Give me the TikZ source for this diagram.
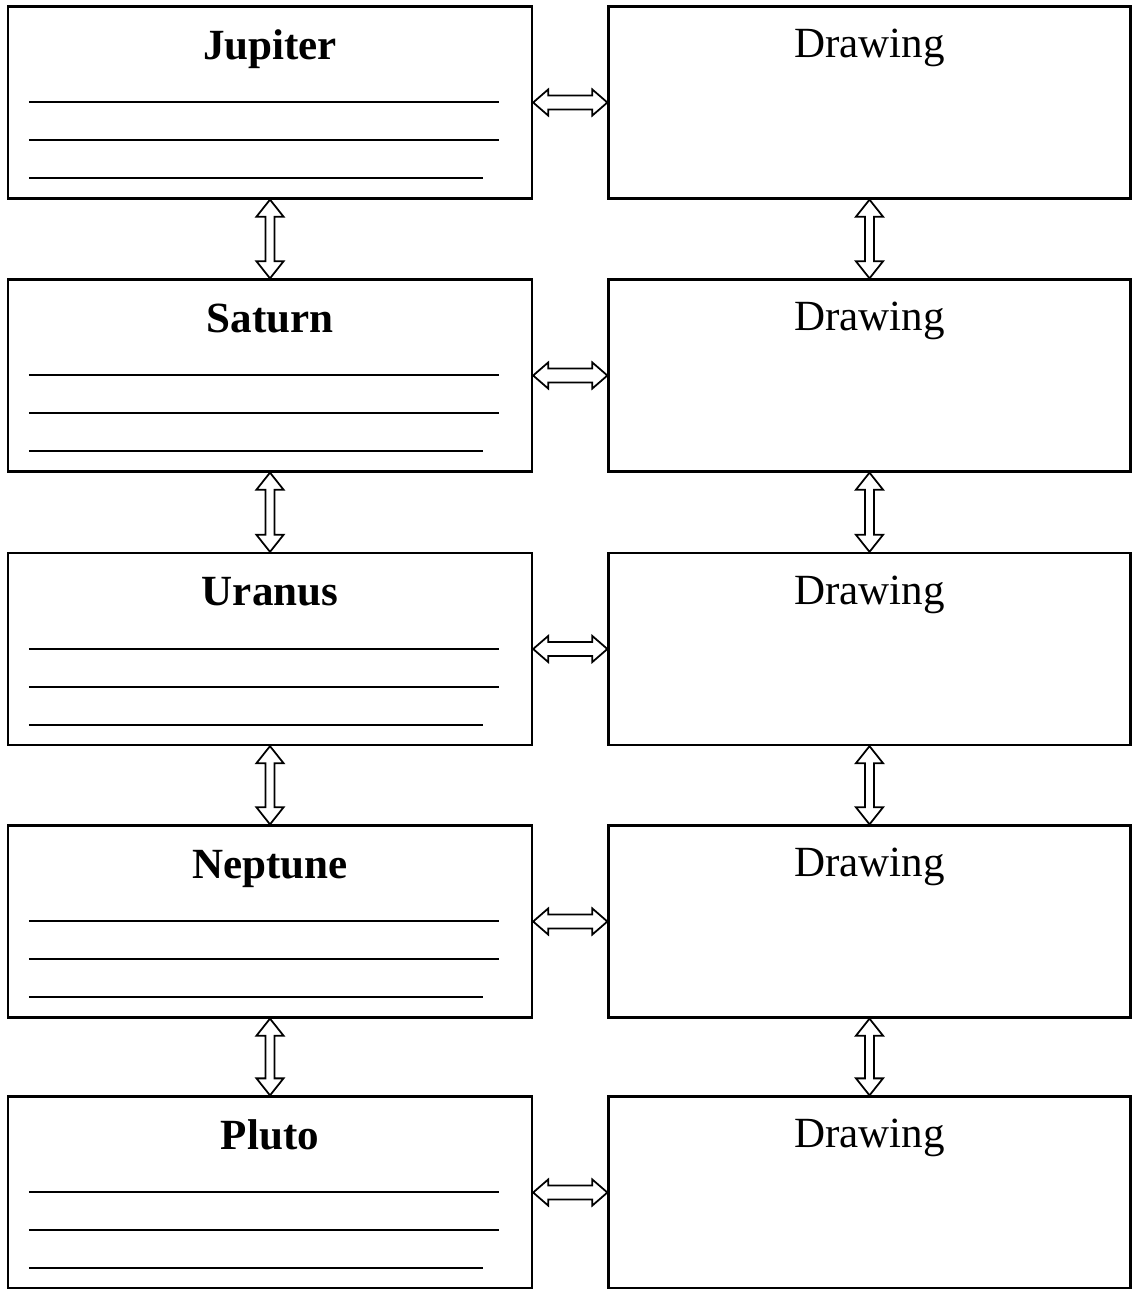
\documentclass[tikz,border=0pt]{standalone}
\usepackage{fontspec}
\setmainfont{Liberation Serif}

\tikzset{
  planet/.style={draw, line width=1.3pt, minimum width=10.48cm, minimum height=3.84cm, inner sep=0pt},
  sketch/.style={planet, minimum width=10.44cm},
  pname/.style={anchor=base, inner sep=0pt, font=\fontsize{24.5}{28}\selectfont\bfseries},
  dname/.style={anchor=base, inner sep=0pt, font=\fontsize{24.5}{28}\selectfont},
  rule/.style={line width=1pt},
  hollow/.style={draw, fill=white, line width=1pt, line join=miter},
}

% hollow double arrow from #1 (left) to #2 (right)
\newcommand{\harrow}[2]{%
  \draw[hollow] (#1) -- ([shift={(0.30,0.26)}]#1) -- ([shift={(0.30,0.14)}]#1)
    -- ([shift={(-0.30,0.14)}]#2) -- ([shift={(-0.30,0.26)}]#2) -- (#2)
    -- ([shift={(-0.30,-0.26)}]#2) -- ([shift={(-0.30,-0.14)}]#2)
    -- ([shift={(0.30,-0.14)}]#1) -- ([shift={(0.30,-0.26)}]#1) -- cycle;}
% hollow double arrow from #1 (top) to #2 (bottom)
\newcommand{\varrow}[2]{%
  \draw[hollow] (#1) -- ([shift={(0.27,-0.34)}]#1) -- ([shift={(0.09,-0.34)}]#1)
    -- ([shift={(0.09,0.34)}]#2) -- ([shift={(0.27,0.34)}]#2) -- (#2)
    -- ([shift={(-0.27,0.34)}]#2) -- ([shift={(-0.09,0.34)}]#2)
    -- ([shift={(-0.09,-0.34)}]#1) -- ([shift={(-0.27,-0.34)}]#1) -- cycle;}

\begin{document}
\begin{tikzpicture}
\useasboundingbox (0,0) rectangle (22.64,-25.78);

% planet boxes
\node[planet] (j) at (5.40,-2.05) {};
\node[planet] (s) at (5.40,-7.51) {};
\node[planet] (u) at (5.40,-12.98) {};
\node[planet] (n) at (5.40,-18.43) {};
\node[planet] (p) at (5.40,-23.85) {};

% drawing boxes
\node[sketch] (jd) at (17.39,-2.05) {};
\node[sketch] (sd) at (17.39,-7.51) {};
\node[sketch] (ud) at (17.39,-12.98) {};
\node[sketch] (nd) at (17.39,-18.43) {};
\node[sketch] (pd) at (17.39,-23.85) {};

% titles
\node[pname] (jt) at ([yshift=-1.08cm]j.north) {Jupiter};
\node[pname] (st) at ([yshift=-1.08cm]s.north) {Saturn};
\node[pname] (ut) at ([yshift=-1.08cm]u.north) {Uranus};
\node[pname] (nt) at ([yshift=-1.08cm]n.north) {Neptune};
\node[pname] (pt) at ([yshift=-1.08cm]p.north) {Pluto};

\node[dname] (jdt) at ([yshift=-1.05cm]jd.north) {Drawing};
\node[dname] (sdt) at ([yshift=-1.05cm]sd.north) {Drawing};
\node[dname] (udt) at ([yshift=-1.05cm]ud.north) {Drawing};
\node[dname] (ndt) at ([yshift=-1.05cm]nd.north) {Drawing};
\node[dname] (pdt) at ([yshift=-1.05cm]pd.north) {Drawing};

% writing lines
\foreach \b in {j,s,u,n,p} {
  \draw[rule] ([shift={(0.44,-1.94)}]\b.north west) -- ([shift={(-0.68,-1.94)}]\b.north east);
  \draw[rule] ([shift={(0.44,-2.70)}]\b.north west) -- ([shift={(-0.68,-2.70)}]\b.north east);
  \draw[rule] ([shift={(0.44,-3.46)}]\b.north west) -- ([shift={(-1.00,-3.46)}]\b.north east);
}

% arrows
\harrow{j.east}{jd.west}
\harrow{s.east}{sd.west}
\harrow{u.east}{ud.west}
\harrow{n.east}{nd.west}
\harrow{p.east}{pd.west}

\varrow{j.south}{s.north}
\varrow{s.south}{u.north}
\varrow{u.south}{n.north}
\varrow{n.south}{p.north}

\varrow{jd.south}{sd.north}
\varrow{sd.south}{ud.north}
\varrow{ud.south}{nd.north}
\varrow{nd.south}{pd.north}
\end{tikzpicture}
\end{document}
